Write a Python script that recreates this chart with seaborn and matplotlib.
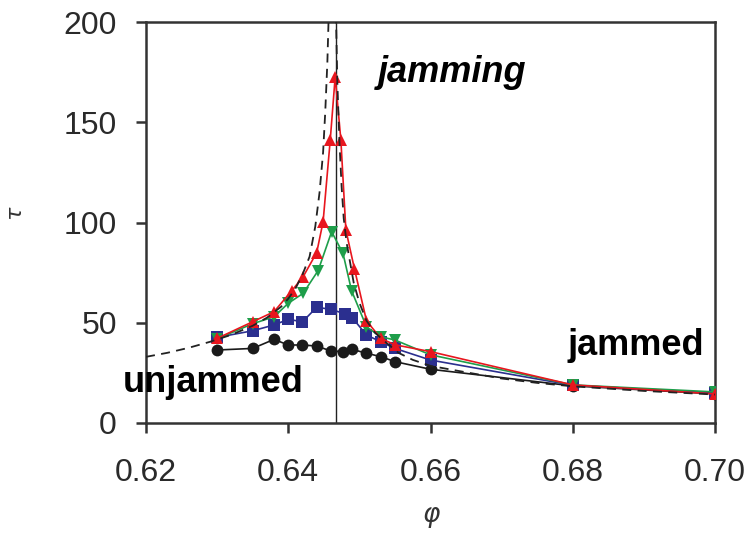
import matplotlib
matplotlib.use("Agg")
import matplotlib.pyplot as plt
import seaborn as sns
import pandas as pd

# ---- data ----
phi_black = [0.630, 0.635, 0.638, 0.640, 0.642, 0.644, 0.646, 0.6477, 0.6489, 0.651, 0.653, 0.655, 0.660, 0.680, 0.700]
tau_black = [36.4, 37.2, 41.7, 38.9, 38.9, 38.4, 35.9, 35.6, 36.8, 34.8, 33.1, 30.6, 26.8, 18.5, 14.5]

phi_blue = [0.630, 0.635, 0.638, 0.640, 0.642, 0.644, 0.646, 0.648, 0.649, 0.651, 0.653, 0.655, 0.660, 0.680, 0.700]
tau_blue = [42.7, 46.0, 48.9, 51.7, 50.5, 57.7, 56.7, 54.4, 52.5, 43.9, 40.5, 37.2, 31.4, 18.8, 15.0]

phi_green = [0.630, 0.635, 0.638, 0.640, 0.6421, 0.6442, 0.6461, 0.6477, 0.6489, 0.651, 0.653, 0.655, 0.660, 0.680, 0.700]
tau_green = [42.0, 49.5, 53.0, 59.7, 64.7, 76.0, 95.4, 84.6, 66.0, 48.0, 43.0, 41.4, 34.0, 19.0, 15.5]

phi_red = [0.630, 0.635, 0.638, 0.6405, 0.6421, 0.6440, 0.6449, 0.6459, 0.6466, 0.6474, 0.6481, 0.6493, 0.651, 0.653, 0.655, 0.660, 0.680, 0.700]
tau_red = [42.2, 50.5, 55.5, 66.0, 73.0, 85.0, 100.4, 141.0, 172.7, 141.0, 96.3, 77.0, 51.0, 42.2, 39.0, 35.6, 19.0, 14.5]

phi_fit_left = [0.620, 0.623, 0.626, 0.629, 0.632, 0.635, 0.637, 0.639, 0.640, 0.641, 0.642, 0.643,
                0.6438, 0.6444, 0.6449, 0.6452, 0.6455, 0.6457, 0.6459]
tau_fit_left = [33, 35, 37.5, 40.5, 44, 48.5, 52.5, 58, 62, 67, 74, 83, 98, 115, 135, 155, 180, 205, 240]

phi_fit_right = [0.6466, 0.6467, 0.6469, 0.6472, 0.6475, 0.6478, 0.6482, 0.6487, 0.6492, 0.6500, 0.6510,
                 0.6522, 0.6538, 0.6555, 0.6575, 0.6600, 0.6645, 0.6700, 0.6750, 0.6800, 0.6900, 0.7000]
tau_fit_right = [240, 205, 170, 140, 118, 102, 90, 80, 70, 60, 51, 45, 40, 35, 31.5, 28.5, 25.6, 22.2,
                 20, 18.3, 16, 14.2]

phi_c = 0.6467
x_ticks = [0.62, 0.64, 0.66, 0.68, 0.70]
x_tick_labels = ["0.62", "0.64", "0.66", "0.68", "0.70"]
y_ticks = [0, 50, 100, 150, 200]
annotations = ["unjammed", "jamming", "jammed"]

# ---- figure ----
sns.set_style("white")
plt.rcParams["font.family"] = ["Liberation Sans", "DejaVu Sans"]

fig = plt.figure(figsize=(7.5, 5.34), dpi=100)
ax = fig.add_axes([146 / 750, 1 - 423 / 534, (715 - 146) / 750, (423 - 22) / 534])

ax.axvline(phi_c, color="#222222", lw=1.0, zorder=1)

series = [
    (phi_black, tau_black, "#1a1a1a", "o", 8.5),
    (phi_blue, tau_blue, "#2b2f8f", "s", 8.0),
    (phi_green, tau_green, "#1e9e4a", "v", 9.0),
    (phi_red, tau_red, "#e8161e", "^", 9.0),
]
for i, (xs, ys, col, mk, ms) in enumerate(series):
    df = pd.DataFrame({"phi": xs, "tau": ys})
    sns.lineplot(data=df, x="phi", y="tau", ax=ax, color=col, marker=mk, markersize=ms,
                 markeredgewidth=0, linewidth=1.2, sort=False, estimator=None, zorder=3 + i)

for xs, ys in [(phi_fit_left, tau_fit_left), (phi_fit_right, tau_fit_right)]:
    df = pd.DataFrame({"phi": xs, "tau": ys})
    sns.lineplot(data=df, x="phi", y="tau", ax=ax, color="#222222", linewidth=1.3,
                 linestyle=(0, (5, 3.5)), sort=False, estimator=None, zorder=8)

ax.set_xlim(0.62, 0.70)
ax.set_ylim(0, 200)
ax.set_xticks(x_ticks)
ax.set_xticklabels(x_tick_labels)
ax.set_yticks(y_ticks)

for sp in ax.spines.values():
    sp.set_color("#333333")
    sp.set_linewidth(1.8)
ax.tick_params(axis="both", direction="out", length=7, width=1.8, color="#333333",
               labelsize=23, labelcolor="#2a2a2a")
ax.tick_params(axis="x", pad=18)
ax.tick_params(axis="y", pad=14)
ax.tick_params(left=True, bottom=True)

ax.set_xlabel("")
ax.set_ylabel("")
fig.text(432 / 750, 1 - 518 / 534, r"$\varphi$", fontsize=19, color="#333333", ha="center", va="center")
fig.text(17 / 750, 1 - 213 / 534, r"$\tau$", fontsize=16, color="#333333", ha="center", va="center",
         rotation=90)

ax.text(0.6295, 15.5, annotations[0], fontsize=26, fontweight="bold", ha="center", va="baseline", color="black")
ax.text(0.6630, 170, annotations[1], fontsize=26, fontweight="bold", fontstyle="italic", ha="center", va="baseline", color="black")
ax.text(0.6889, 34, annotations[2], fontsize=26, fontweight="bold", ha="center", va="baseline", color="black")

fig.savefig("out.png", dpi=100)
